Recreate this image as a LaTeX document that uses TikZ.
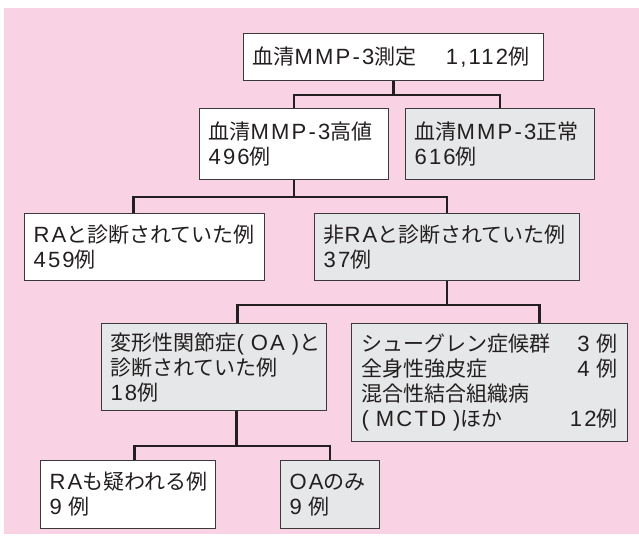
\documentclass[tikz,border=0pt]{standalone}
\usepackage{fontspec}
\setmainfont{Noto Sans CJK JP}
\newfontfamily\latf[LetterSpace=10,Scale=1.05,WordSpace=0.6]{Liberation Sans}
\newcommand{\LS}[1]{{\latf #1}}
\definecolor{bgpink}{HTML}{F9D2E3}
\definecolor{boxgray}{HTML}{E6E7E8}
\definecolor{ink}{HTML}{231F20}
\definecolor{edge}{HTML}{3A3A3A}
\begin{document}
\begin{tikzpicture}[x=1pt,y=-1pt,
  box/.style={draw=edge, line width=1.1pt, fill=white, anchor=north west,
    align=left, inner xsep=9pt, inner ysep=0pt, text=ink,
    font=\fontsize{21}{25}\selectfont},
  graybox/.style={box, fill=boxgray},
  conn/.style={draw=ink, line width=2.4pt, line cap=butt, line join=miter}]
\useasboundingbox (0,0) rectangle (639,538);
\fill[bgpink] (4,8) rectangle (639,534);

\node[box, text width=282pt, minimum height=47pt] (top) at (243,33)
  {血清\LS{MMP-3}測定\hspace{1.4em}\LS{1,112}例};
\node[box, text width=171pt, minimum height=71pt] (high) at (199,108)
  {血清\LS{MMP-3}高値\\\LS{496}例};
\node[graybox, text width=171pt, minimum height=71pt] (normal) at (405,108)
  {血清\LS{MMP-3}正常\\\LS{616}例};
\node[box, text width=222pt, minimum height=67pt] (ra) at (24,213)
  {\LS{RA}と診断されていた例\\\LS{459}例};
\node[graybox, text width=247pt, minimum height=67pt] (nonra) at (314,213)
  {非\LS{RA}と診断されていた例\\\LS{37}例};
\node[graybox, text width=207pt, minimum height=87pt] (oa) at (101,323)
  {\mbox{変形性関節症\LS{( OA )}と}\\診断されていた例\\\LS{18}例};
\node[graybox, text width=256pt, minimum height=118pt, inner xsep=10pt] (sjo) at (351,323)
  {シューグレン症候群\hfill\LS{3 }例\\全身性強皮症\hfill\LS{4 }例\\混合性結合組織病\\\mbox{\LS{( MCTD )}ほか}\hfill\LS{12}例};
\node[box, text width=157pt, minimum height=68pt] (rasus) at (40,460)
  {\LS{RA}も疑われる例\\\LS{9 }例};
\node[graybox, text width=81pt, minimum height=68pt] (oaonly) at (280,460)
  {\LS{OA}のみ\\\LS{9 }例};

\draw[conn] (top.south) -- ++(0,15);
\draw[conn] (high.north) -- ++(0,-13) -| (normal.north);
\draw[conn] (high.south) -- ++(0,18);
\draw[conn] ([xshift=-11pt]ra.north) -- ++(0,-16) -| (nonra.north);
\draw[conn] (nonra.south) -- ++(0,25);
\draw[conn] ([xshift=23.5pt]oa.north) -- ++(0,-18) -| ([xshift=50pt]sjo.north);
\draw[conn] ([xshift=22.5pt]oa.south) -- ++(0,36);
\draw[conn] ([xshift=6.5pt]rasus.north) -- ++(0,-14) -| (oaonly.north);
\end{tikzpicture}
\end{document}
